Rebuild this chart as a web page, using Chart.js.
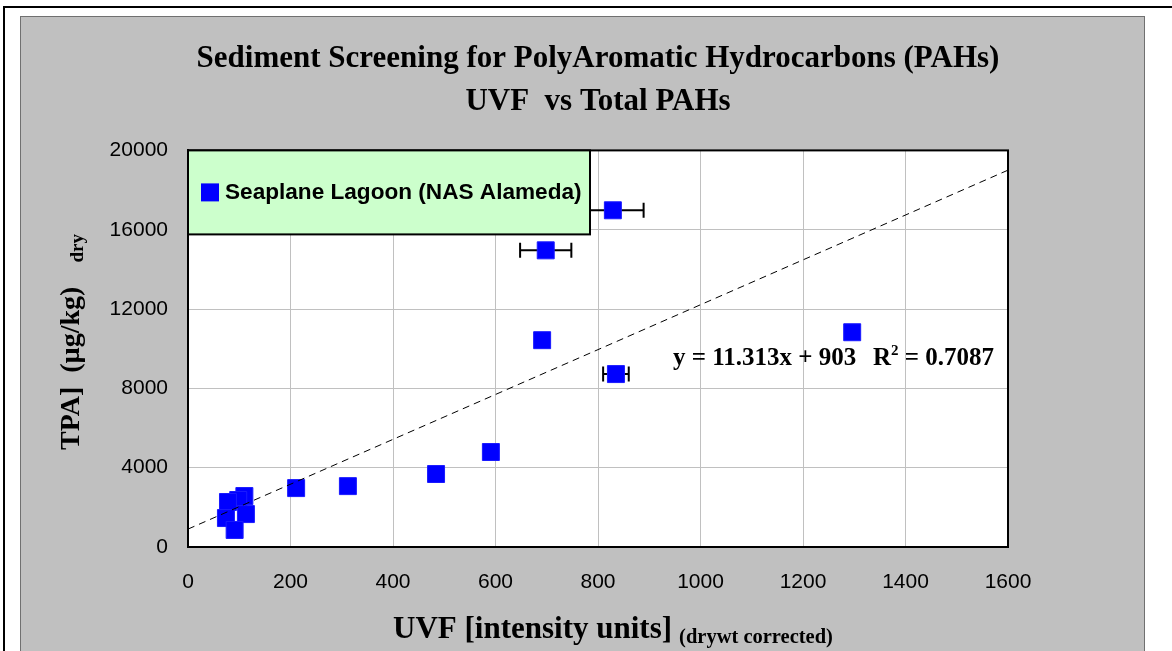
<!DOCTYPE html>
<html><head><meta charset="utf-8">
<script src="https://cdn.jsdelivr.net/npm/chart.js@4.4.1/dist/chart.umd.min.js"></script>
<style>html,body{margin:0;padding:0;background:#fff;overflow:hidden}#wrap{width:1172px;height:651px;position:relative}</style>
</head><body><div id="wrap"><canvas id="c" width="1172" height="651"></canvas></div>
<script>
const titleText = 'Sediment Screening for PolyAromatic Hydrocarbons (PAHs)';
const subtitleText = 'UVF  vs Total PAHs';
const seriesName = 'Seaplane Lagoon (NAS Alameda)';
const xTitleMain = 'UVF [intensity units]';
const xTitleSub = '(drywt corrected)';
const yTitleMain = 'TPA]  (\u00b5g/kg)';
const yTitleSub = 'dry';
const uvf    = [829,   698,   691,   835,  1296,  591,  484,  312,  211,  110,  98,   78,   74,   113,  91];
const tpa    = [16980, 14960, 10430, 8720, 10830, 4790, 3680, 3070, 2970, 2570, 2370, 2270, 1460, 1660, 860];
const uvfErr = [60,    50,    0,     25,   0,     0,    0,    0,    0,    0,    0,    0,    0,    0,    0];
const xTickLabels = ['0','200','400','600','800','1000','1200','1400','1600'];
const yTickLabels = ['0','4000','8000','12000','16000','20000'];
const trendSlope = 11.313, trendIntercept = 903, trendR2 = '0.7087';
const trendX = [0, 1600];

const serif = '"Liberation Serif", "Times New Roman", serif';
const sans = '"Liberation Sans", Arial, sans-serif';

const bgPlugin = {
  id: 'bg',
  beforeDraw(chart) {
    const ctx = chart.ctx, a = chart.chartArea, W = chart.width, H = chart.height;
    ctx.save();
    ctx.fillStyle = '#fff'; ctx.fillRect(0, 0, W, H);
    ctx.fillStyle = '#000'; ctx.fillRect(3, 6, W - 3, 2); ctx.fillRect(3, 6, 2, H - 6);
    ctx.fillStyle = '#c0c0c0'; ctx.fillRect(20, 16, 1125, H - 16);
    ctx.strokeStyle = '#707070'; ctx.lineWidth = 1; ctx.strokeRect(20.5, 16.5, 1124, H);
    ctx.fillStyle = '#fff'; ctx.fillRect(a.left, a.top, a.right - a.left, a.bottom - a.top);
    ctx.restore();
  },
  beforeDatasetsDraw(chart) {
    const ctx = chart.ctx, xs = chart.scales.x, ys = chart.scales.y;
    ctx.save();
    ctx.strokeStyle = '#000'; ctx.lineWidth = 2;
    uvf.forEach((x, i) => {
      const e = uvfErr[i];
      if (!e) return;
      const y = ys.getPixelForValue(tpa[i]);
      const x1 = xs.getPixelForValue(x - e), x2 = xs.getPixelForValue(x + e);
      ctx.beginPath();
      ctx.moveTo(x1, y); ctx.lineTo(x2, y);
      ctx.moveTo(x1, y - 7.5); ctx.lineTo(x1, y + 7.5);
      ctx.moveTo(x2, y - 7.5); ctx.lineTo(x2, y + 7.5);
      ctx.stroke();
    });
    ctx.restore();
  },
  afterDatasetsDraw(chart) {
    const ctx = chart.ctx, a = chart.chartArea;
    ctx.save();
    ctx.strokeStyle = '#000'; ctx.lineWidth = 2;
    ctx.strokeRect(a.left, a.top, a.right - a.left, a.bottom - a.top);
    const lx = a.left, ly = a.top, lw = 402, lh = 84;
    ctx.fillStyle = '#ccffcc'; ctx.fillRect(lx, ly, lw, lh);
    ctx.strokeRect(lx, ly, lw, lh);
    ctx.fillStyle = '#0000ff'; ctx.fillRect(lx + 13, ly + 33, 18, 18);
    ctx.fillStyle = '#000'; ctx.font = 'bold 22.6px ' + sans;
    ctx.textBaseline = 'middle'; ctx.textAlign = 'left';
    ctx.fillText(seriesName, lx + 37, ly + 42);
    const ex = a.left + 485, ey = a.top + 215;
    ctx.textBaseline = 'alphabetic';
    ctx.font = 'bold 25px ' + serif;
    const eq = 'y = ' + trendSlope + 'x + ' + trendIntercept;
    ctx.fillText(eq, ex, ey);
    let rx = ex + 200;
    ctx.fillText('R', rx, ey);
    rx += ctx.measureText('R').width;
    ctx.font = 'bold 15px ' + serif;
    ctx.fillText('2', rx, ey - 10);
    rx += ctx.measureText('2').width;
    ctx.font = 'bold 25px ' + serif;
    ctx.fillText(' = ' + trendR2, rx, ey);
    ctx.restore();
  },
  afterDraw(chart) {
    const ctx = chart.ctx;
    ctx.save();
    ctx.fillStyle = '#000';
    ctx.textBaseline = 'alphabetic'; ctx.textAlign = 'left';
    ctx.font = 'bold 31px ' + serif;
    const w1 = ctx.measureText(xTitleMain).width;
    ctx.font = 'bold 20.5px ' + serif;
    const w2 = ctx.measureText(xTitleSub).width;
    const gap = 7;
    const cx = 613;
    const sx = cx - (w1 + gap + w2) / 2;
    ctx.font = 'bold 31px ' + serif;
    ctx.fillText(xTitleMain, sx, 638);
    ctx.font = 'bold 20.5px ' + serif;
    ctx.fillText(xTitleSub, sx + w1 + gap, 643);
    ctx.translate(79, 450);
    ctx.rotate(-Math.PI / 2);
    ctx.font = 'bold 28px ' + serif;
    ctx.fillText(yTitleMain, 0, 0);
    const wy = ctx.measureText(yTitleMain).width;
    ctx.font = 'bold 19px ' + serif;
    ctx.fillText(yTitleSub, wy + 24, 4);
    ctx.restore();
  }
};

new Chart(document.getElementById('c'), {
  type: 'scatter',
  data: {
    datasets: [
      {
        type: 'line', label: 'Linear', order: 0,
        data: trendX.map(x => ({ x, y: trendSlope * x + trendIntercept })),
        borderColor: '#000', borderWidth: 1, borderDash: [7, 5],
        pointRadius: 0, fill: false, showLine: true
      },
      {
        label: seriesName, order: 1,
        data: uvf.map((x, i) => ({ x, y: tpa[i] })),
        backgroundColor: '#0000ff', borderColor: '#1a1aff',
        pointStyle: 'rect', pointRadius: 12, pointBorderWidth: 1
      }
    ]
  },
  options: {
    responsive: false, animation: false, events: [],
    layout: { padding: { left: 20, right: 164, top: 40, bottom: 0 } },
    plugins: {
      legend: { display: false },
      tooltip: { enabled: false },
      title: {
        display: true, fullSize: false, text: titleText, color: '#000',
        font: { family: serif, size: 31, weight: 'bold', lineHeight: 1.2 },
        padding: { top: 0, bottom: 6 }
      },
      subtitle: {
        display: true, fullSize: false, text: subtitleText, color: '#000',
        font: { family: serif, size: 31, weight: 'bold', lineHeight: 1.2 },
        padding: { top: 0, bottom: 30 }
      }
    },
    scales: {
      x: {
        type: 'linear', min: 0, max: 1600,
        afterFit(s) { s.height = 104; },
        afterBuildTicks(s) { s.ticks = xTickLabels.map(v => ({ value: Number(v) })); },
        ticks: {
          callback: (v, i) => xTickLabels[i], padding: 23, color: '#000',
          font: { family: sans, size: 21 }, maxRotation: 0, autoSkip: false
        },
        grid: { color: '#c0c0c0', lineWidth: 1, drawTicks: false },
        border: { display: true, color: '#000', width: 2 }
      },
      y: {
        type: 'linear', min: 0, max: 20000,
        afterFit(s) { s.width = 168; },
        afterBuildTicks(s) { s.ticks = yTickLabels.map(v => ({ value: Number(v) })); },
        ticks: {
          callback: (v, i) => yTickLabels[i], padding: 20, color: '#000',
          font: { family: sans, size: 21 }, autoSkip: false
        },
        grid: { color: '#c0c0c0', lineWidth: 1, drawTicks: false },
        border: { display: true, color: '#000', width: 2 }
      }
    }
  },
  plugins: [bgPlugin]
});
</script>
</body></html>
